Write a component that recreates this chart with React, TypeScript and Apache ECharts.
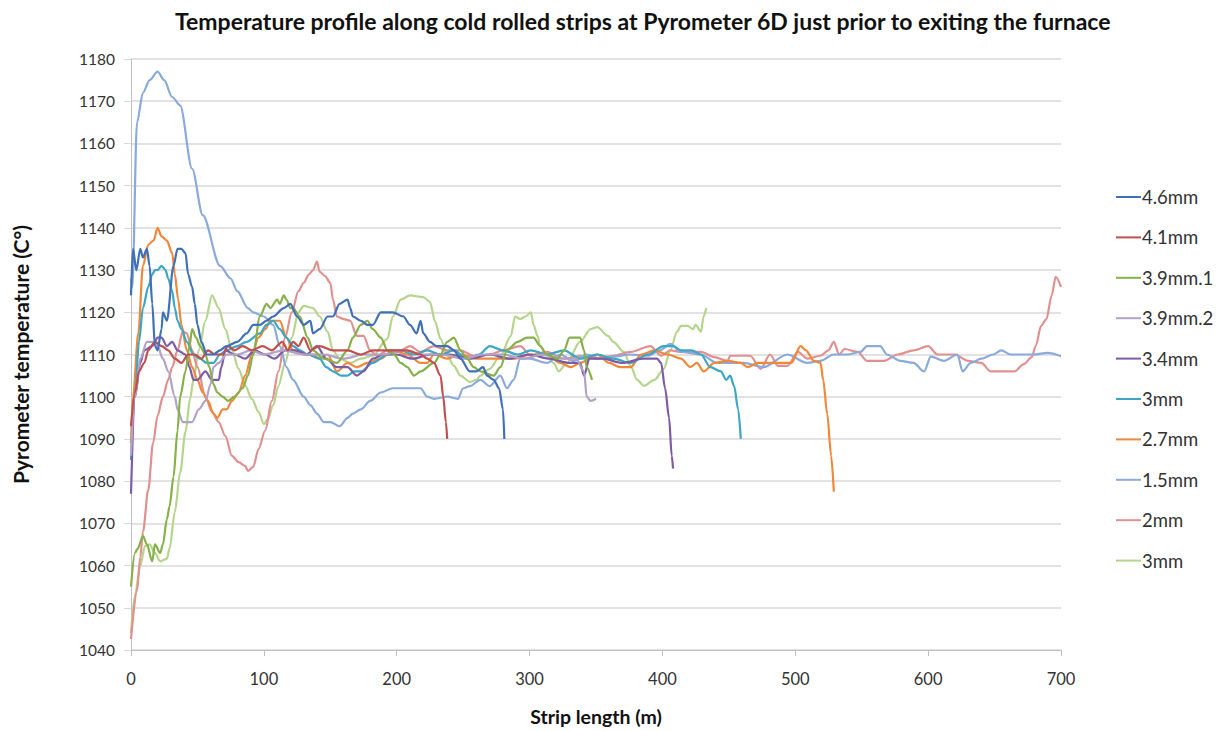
import React, { useEffect, useRef } from "react";
import * as echarts from "echarts";

const TITLE = "Temperature profile along cold rolled strips at Pyrometer 6D just prior to exiting the furnace";
const X_NAME = "Strip length (m)";
const Y_NAME = "Pyrometer temperature (C°)";

const seriesNames = ["4.6mm", "4.1mm", "3.9mm.1", "3.9mm.2", "3.4mm", "3mm", "2.7mm", "1.5mm", "2mm", "3mm#2"];
const seriesColors = ["#4070B8", "#C0504D", "#86B04A", "#B3A2C7", "#7D5BA6", "#3DA6C4", "#F0883A", "#8AAADC", "#E0918F", "#B5D48C"];

const s46 = [[0,1124],[1.5,1135],[4,1130],[7,1135],[9,1133],[12,1135],[14,1131],[16,1122],[18,1112],[20,1111],[23,1116],[24,1120],[27,1118],[32,1131],[35,1135],[38,1135],[41,1134],[43,1129],[46,1126],[48,1122],[50,1117],[53,1113],[57,1110],[62,1110],[67,1111],[72,1112],[80,1113],[87,1115],[92,1117],[97,1117],[102,1118],[107,1119],[115,1121],[120,1122],[125,1119],[130,1117],[135,1118],[137,1115],[142,1116],[148,1119],[152,1119],[157,1122],[163,1123],[165,1121],[167,1119],[173,1118],[178,1117],[182,1117],[188,1120],[197,1120],[205,1119],[210,1117],[215,1115],[218,1118],[220,1115],[225,1113],[230,1112],[238,1112],[243,1111],[248,1109],[255,1106],[260,1106],[265,1107],[268,1105],[273,1104],[277,1102],[280,1097],[281,1090]];
const s41 = [[0,1093],[3,1101],[6,1106],[10,1108],[13,1111],[18,1113],[23,1112],[28,1111],[33,1109],[38,1108],[43,1110],[48,1110],[53,1109],[58,1111],[63,1110],[69,1110],[73,1112],[78,1111],[84,1112],[91,1111],[99,1112],[106,1111],[114,1113],[118,1111],[122,1113],[126,1112],[130,1114],[135,1111],[142,1112],[152,1111],[163,1111],[173,1110],[182,1111],[197,1111],[208,1111],[218,1110],[223,1109],[228,1108],[233,1105],[235,1100],[237,1094],[238,1090]];
const s391 = [[0,1055],[3,1063],[5,1064],[9,1067],[12,1065],[16,1061],[18,1065],[22,1063],[24,1065],[27,1071],[29,1074],[32,1081],[35,1092],[37,1100],[41,1106],[44,1112],[46,1116],[49,1114],[52,1112],[56,1110],[59,1107],[62,1103],[65,1101],[69,1100],[73,1099],[78,1100],[84,1102],[88,1105],[92,1110],[97,1119],[102,1122],[105,1121],[110,1123],[112,1122],[115,1124],[117,1123],[120,1121],[122,1121],[127,1119],[133,1114],[137,1111],[145,1109],[155,1108],[163,1111],[167,1114],[173,1117],[178,1118],[182,1116],[188,1114],[193,1111],[198,1110],[203,1108],[208,1107],[213,1105],[218,1106],[228,1108],[233,1110],[238,1113],[243,1114],[248,1111],[253,1109],[258,1107],[263,1106],[273,1105],[278,1107],[283,1111],[291,1113],[298,1114],[303,1114],[308,1112],[313,1110],[321,1109],[326,1111],[330,1114],[338,1114],[341,1111],[343,1107],[347,1104]];
const s392 = [[0,1086],[3,1100],[7,1109],[12,1113],[16,1113],[20,1112],[24,1109],[28,1106],[33,1100],[35,1097],[39,1094],[46,1094],[51,1097],[56,1099],[60,1103],[62,1107],[66,1108],[72,1110],[80,1110],[90,1111],[100,1110],[115,1111],[130,1110],[145,1110],[160,1109],[175,1110],[190,1110],[205,1111],[220,1110],[235,1110],[250,1109],[265,1110],[280,1110],[295,1109],[310,1110],[325,1109],[335,1109],[341,1106],[343,1100],[346,1099],[350,1099.5]];
const s34 = [[0,1077],[3,1100],[7,1108],[10,1111],[16,1112],[20,1114],[23,1114],[27,1112],[31,1113],[35,1111],[41,1110],[44,1107],[47,1104],[50,1104],[56,1106],[61,1104],[66,1104],[68,1107],[71,1111],[78,1110],[86,1109],[93,1111],[101,1110],[108,1109],[116,1111],[124,1111],[132,1110],[140,1112],[147,1109],[155,1107],[163,1107],[170,1105],[175,1106],[182,1109],[190,1110],[200,1110],[212,1109],[225,1110],[240,1110],[255,1109],[270,1110],[285,1109],[300,1110],[315,1109],[330,1108],[338,1108],[341,1105],[345,1109],[355,1109],[370,1108],[385,1109],[396,1109],[399,1108],[402,1102],[405,1095],[407,1086],[408,1083]];
const s3a = [[0,1085],[3,1100],[6,1113],[9,1121],[13,1126],[16,1129],[18,1130],[20,1130],[23,1131],[26,1130],[28,1128],[31,1125],[33,1121],[35,1118],[38,1116],[42,1113],[47,1110],[52,1109],[57,1108],[62,1108],[67,1110],[72,1111],[80,1112],[87,1113],[97,1115],[102,1117],[107,1118],[112,1116],[117,1114],[122,1112],[127,1111],[133,1110],[142,1109],[147,1107],[152,1106],[158,1105],[163,1105],[168,1106],[173,1106],[182,1108],[193,1110],[203,1111],[213,1110],[223,1111],[233,1110],[243,1111],[253,1109],[262,1110],[270,1112],[280,1111],[291,1110],[301,1111],[313,1110],[326,1111],[338,1109],[351,1110],[363,1109],[376,1108],[389,1110],[401,1112],[408,1112],[414,1111],[422,1111],[429,1110],[436,1107],[444,1106],[448,1104],[451,1105],[454,1102.5],[457,1097],[459,1090]];
const s27 = [[0,1089],[1.5,1100],[5.5,1115],[9,1131],[13,1136],[17,1137],[20,1140],[23,1138],[27,1137],[31,1134],[33,1129],[35.5,1123],[38,1117],[42,1111],[46,1107],[50,1104],[54,1101],[58,1099],[62,1096],[65,1095],[69,1097],[72,1097],[76,1099],[81,1101],[86,1105],[91,1110],[96,1114],[101,1116],[105,1118],[112,1118],[117,1114],[122,1111],[130,1110],[137,1110],[142,1109],[148,1110],[155,1106],[163,1108],[170,1107],[178,1108],[188,1109],[197,1111],[208,1110],[218,1108],[223,1108],[228,1110],[238,1109],[248,1110],[261,1109],[276,1109],[288,1109],[301,1110],[313,1110],[323,1108],[331,1107],[338,1108],[351,1110],[360,1108],[368,1107],[376,1107],[384,1110],[394,1111],[404,1110],[414,1109],[421,1107],[426,1108],[431,1106],[439,1108],[449,1108.5],[459,1108],[464,1107],[472,1108],[484,1108],[497,1108],[504,1112],[508,1111],[514,1108.5],[519,1108],[521,1104],[524,1096],[527,1086],[529,1077.5]];
const s15 = [[0,1128],[1,1126],[4.5,1165],[9,1172],[14,1175],[20,1177],[25,1175],[31,1171],[37,1169],[46,1154],[54,1143],[67,1131],[75,1128],[80,1125],[88,1121],[92,1120],[100,1119],[107,1117],[112,1112],[117,1107],[122,1104],[130,1100],[135,1098],[140,1096],[145,1094],[150,1094],[157,1093],[163,1095],[167,1096],[173,1097],[180,1099],[188,1101],[197,1102],[218,1102],[223,1100],[228,1099.5],[238,1100],[246,1099.5],[250,1102],[255,1102.5],[263,1104],[270,1102.5],[278,1105],[283,1102],[288,1104],[293,1109],[300,1109],[313,1108],[323,1110],[333,1108.5],[343,1110],[353,1109],[363,1109.5],[376,1110],[389,1109.7],[398,1111],[406,1112.5],[414,1110.6],[429,1110],[441,1108],[461,1108],[476,1107],[494,1110],[509,1108],[519,1108.5],[529,1110],[539,1110],[549,1110.6],[554,1112],[564,1112],[569,1110],[579,1108.5],[589,1108],[597,1106],[602,1109.5],[612,1108.5],[622,1110],[626,1106],[632,1108],[640,1109],[649,1110],[655,1111],[662,1110],[670,1110],[680,1110],[690,1110.4],[700,1109.6]];
const s2 = [[0,1042.6],[4.5,1054],[7,1062],[9,1068],[13,1078],[16.6,1089],[20,1095.5],[24,1100],[28,1104],[31,1107],[35,1111],[39,1115.5],[42,1115],[46,1111],[50,1107],[56,1100],[61,1096.4],[66,1094],[71,1090.7],[76,1086],[81,1084.5],[86,1083.6],[88,1082.4],[92,1083.4],[96,1087.6],[101,1092],[106,1099],[111,1106],[116,1114],[121,1120],[126,1125],[130,1127],[134,1129],[137,1130],[140,1132],[142,1129.6],[146,1128.6],[150,1127],[152,1123],[155,1119],[160,1118.4],[165,1118],[170,1114.4],[175,1114.4],[180,1111],[185,1109.7],[193,1111],[203,1111],[210,1112],[218,1110.6],[228,1112],[238,1111],[248,1111],[258,1109.7],[270,1110],[280,1111],[293,1112],[301,1109.7],[313,1110.6],[326,1109],[338,1109.7],[351,1109],[363,1109.7],[376,1110.6],[391,1112],[399,1109.7],[406,1111],[414,1110.6],[429,1110.6],[439,1109.4],[449,1108.5],[451,1109.7],[466,1109.7],[474,1106.6],[481,1110],[487,1107.3],[494,1107.3],[502,1110.6],[509,1109],[519,1109.7],[525,1111],[529,1113],[533,1110],[537,1111.3],[547,1110.6],[554,1108.5],[567,1108.5],[577,1110],[589,1111],[600,1112],[607,1110],[620,1110],[630,1108.5],[640,1108],[647,1106],[655,1106],[665,1106],[672,1107.7],[678,1109.4],[681,1112],[685,1116.8],[689,1118.4],[693,1124],[696,1128.4],[700,1126]];
const s3b = [[0,1044],[3,1053],[7,1060],[10.5,1064.6],[14,1065],[18,1063],[22,1061],[27,1061.6],[29,1064],[33,1072.7],[37,1082],[41,1091.7],[44.5,1099.5],[47,1104],[51,1111],[56,1118],[61,1124],[66,1121],[71,1116],[76,1111],[81,1106.6],[86,1102.6],[91,1099.5],[96,1096.4],[100,1093.5],[103,1094.7],[107,1098],[111,1102.6],[116,1108],[121,1114],[126,1120],[130,1121.5],[137,1121],[142,1119],[148,1115.4],[152,1111],[157,1109],[165,1108],[173,1109],[182,1109.7],[193,1113.7],[197,1119],[203,1123],[210,1124],[220,1123.6],[225,1122.5],[229,1117.7],[233,1113.7],[238,1109.7],[243,1107.3],[248,1105],[255,1103.5],[260,1104],[263,1105],[270,1106.6],[278,1109.7],[286,1114.4],[289,1119],[293,1118.4],[297,1119],[301,1120],[303,1117],[306,1114.4],[308,1112],[313,1109.7],[318,1108],[322,1106],[328,1108],[338,1113],[346,1116],[351,1116.5],[359,1114.4],[363,1113],[371,1110.6],[376,1107.3],[381,1104],[386,1102.6],[394,1104],[401,1106.6],[406,1111],[411,1115.4],[414,1116.8],[419,1116.8],[423,1116],[425,1117],[429,1115.4],[431,1119],[433,1121]];

const seriesData = [s46, s41, s391, s392, s34, s3a, s27, s15, s2, s3b];

const FONT = "Lato, 'Open Sans', sans-serif";

export default function App() {
  const ref = useRef<HTMLDivElement>(null);
  useEffect(() => {
    document.body.style.margin = "0";
    const chart = echarts.init(ref.current!, null, { renderer: "svg" });
    chart.setOption({
      animation: false,
      backgroundColor: "#ffffff",
      textStyle: { fontFamily: FONT },
      title: {
        text: TITLE,
        left: 170,
        top: 4,
        textStyle: { fontFamily: FONT, fontSize: 23, fontWeight: "bold", color: "#111111" },
      },
      grid: { left: 131, right: 159, top: 59, bottom: 80 },
      legend: {
        orient: "vertical",
        left: 1111,
        top: 182,
        itemWidth: 25,
        itemHeight: 20,
        itemGap: 20.4,
        icon: "path://M0,9H25V11H0Z",
        data: seriesNames,
        formatter: (n: string) => n.replace("#2", ""),
        textStyle: { fontFamily: FONT, fontSize: 18.5, color: "#333333", lineHeight: 20, padding: [0, 0, 0, -4] },
      },
      xAxis: {
        type: "value",
        min: 0,
        max: 700,
        interval: 100,
        name: X_NAME,
        nameLocation: "middle",
        nameGap: 56,
        nameTextStyle: { fontFamily: FONT, fontSize: 19.5, fontWeight: "bold", color: "#111111" },
        axisLine: { show: true, lineStyle: { color: "#BFBFBF", width: 1 } },
        axisTick: { show: true, length: 6, lineStyle: { color: "#BFBFBF" } },
        axisLabel: { fontFamily: FONT, fontSize: 16.5, color: "#333333", margin: 20 },
        splitLine: { show: false },
      },
      yAxis: {
        type: "value",
        min: 1040,
        max: 1180,
        interval: 10,
        name: Y_NAME,
        nameLocation: "middle",
        nameGap: 100,
        nameTextStyle: { fontFamily: FONT, fontSize: 21, fontWeight: "bold", color: "#111111" },
        axisLine: { show: true, lineStyle: { color: "#BFBFBF", width: 1 } },
        axisTick: { show: true, length: 7, lineStyle: { color: "#D9D9D9" } },
        axisLabel: { fontFamily: FONT, fontSize: 15.5, color: "#333333", margin: 16, formatter: (v: number) => String(v) },
        splitLine: { show: true, lineStyle: { color: "#D9D9D9", width: 1.5 } },
      },
      series: seriesNames.map((name, i) => ({
        name,
        type: "line",
        data: seriesData[i],
        symbol: "none",
        showSymbol: false,
        smooth: 0.3,
        smoothMonotone: "x",
        color: seriesColors[i],
        lineStyle: { color: seriesColors[i], width: 2.2 },
        z: 10 - i,
      })),
    });
    return () => chart.dispose();
  }, []);
  return <div ref={ref} style={{ width: 1220, height: 731 }} />;
}
